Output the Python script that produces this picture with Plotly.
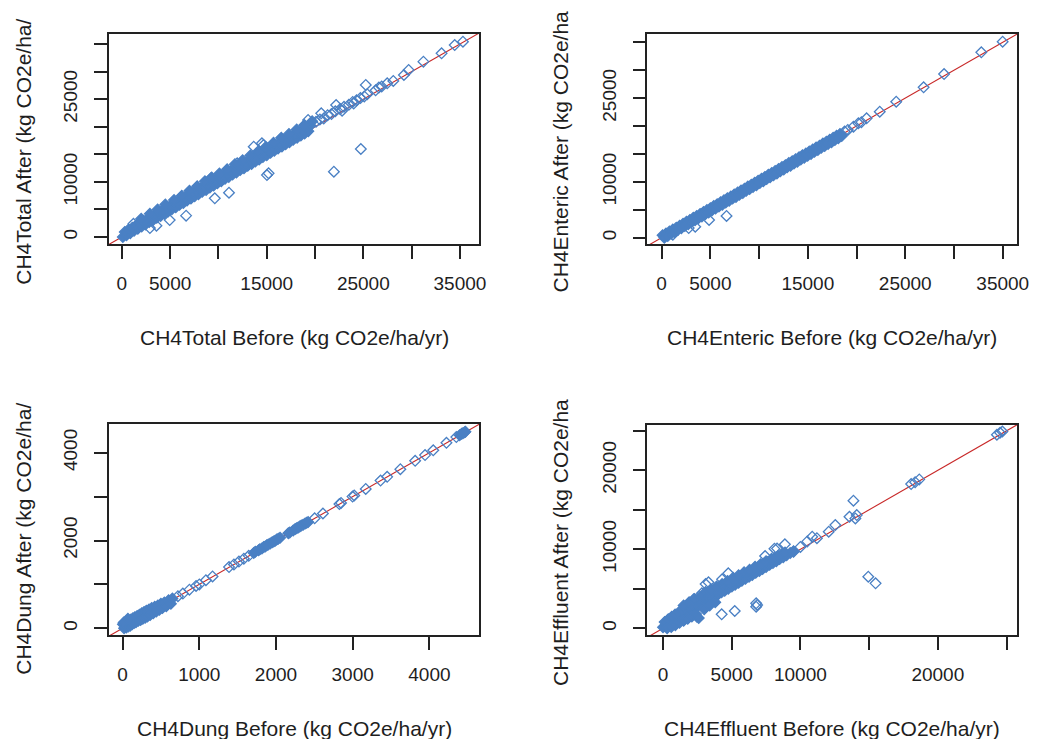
import plotly.graph_objects as go

# ---------------- data ----------------
# Panel 1: CH4Total  (core = densely overplotted band, sparse = individual points)
total_core_before = [100, 480, 870, 1260, 1650, 2050, 2440, 2830, 3220, 3610, 4010, 4400, 4790, 5180, 5580, 5970, 6360, 6750, 7150, 7540,
                     7930, 8320, 8720, 9110, 9500, 9890, 10290, 10680, 11070, 11460, 11860, 12250, 12640, 13030, 13430, 13820, 14210, 14600, 15000, 15390,
                     15780, 16170, 16570, 16960, 17350, 17740, 18140, 18530, 18920, 19310,
                     300, 690, 1080, 1470, 1860, 2250, 2640, 3030, 3430, 3820, 4210, 4600, 5000, 5390, 5780, 6170, 6570, 6960, 7350, 7740,
                     8140, 8530, 8920, 9310, 9710, 10100, 10490, 10880, 11280, 11670, 12060, 12450, 12850, 13240, 13630, 14020, 14420, 14810, 15200, 15590,
                     15990, 16380, 16770, 17160, 17560, 17950, 18340, 18730, 19130, 19520,
                     2000, 2900, 3700, 4500, 5400, 6200, 7000, 7800, 8600, 9300, 10100, 10900, 11700, 12500, 13300, 14100, 14900, 15700, 16500,
                     17300, 18100, 18900, 19700]
total_core_after = [0, 310, 700, 1120, 1480, 1900, 2260, 2700, 3050, 3480, 3820, 4260, 4610, 5050, 5400, 5830, 6180, 6620, 6960, 7410,
                    7740, 8190, 8530, 8980, 9320, 9760, 10100, 10560, 10900, 11340, 11680, 12130, 12480, 12910, 13260, 13700, 14050, 14490, 14830, 15280,
                    15620, 16060, 16410, 16840, 17190, 17640, 17980, 18420, 18760, 19200,
                    900, 1380, 1690, 2150, 2480, 2930, 3270, 3710, 4050, 4500, 4830, 5290, 5620, 6070, 6410, 6850, 7190, 7640, 7980, 8420,
                    8770, 9210, 9550, 10000, 10340, 10780, 11120, 11570, 11910, 12350, 12700, 13140, 13480, 13930, 14270, 14710, 15060, 15500, 15840, 16290,
                    16630, 17070, 17420, 17860, 18200, 18650, 18990, 19430, 19780, 20220,
                    3300, 4200, 5000, 5900, 6700, 7500, 8400, 9200, 10100, 10800, 11500, 12300, 13200, 13900, 14800, 15500, 16300, 17100, 18000,
                    18700, 19500, 20300, 21000]
total_sparse_before = [1200,
                       20100, 20500, 20900, 21300, 21700, 22100, 22600, 22800, 23000, 23500, 23900, 24000, 24300, 24700, 25100, 25400, 25250, 26270, 26610, 26900,
                       27470, 28100, 29200, 29690, 31220, 33100, 34460, 35313, 13650, 14500, 14670, 11940, 9220, 19280, 20640, 22180, 24740, 21950, 15020, 15190,
                       11090, 9620, 6650, 4950, 3580, 2900]
total_sparse_after = [2400,
                      20900, 21300, 21500, 22100, 22300, 22800, 23200, 22900, 23600, 24000, 24500, 24200, 24800, 25200, 25500, 25900, 27570, 26610, 27100, 27300,
                      27870, 28300, 29380, 30290, 31800, 33310, 34820, 35420, 16380, 17000, 16680, 13360, 10640, 21220, 22430, 23940, 15960, 11840, 11240, 11550,
                      8040, 7020, 3870, 3080, 2050, 1630]

# Panel 2: CH4Enteric
enteric_core_before = [100, 450, 800, 1150, 1500, 1850, 2200, 2550, 2900, 3250, 3600, 3950, 4300, 4650, 5000, 5350, 5700, 6050, 6400, 6750,
                       7100, 7450, 7800, 8150, 8500, 8850, 9200, 9550, 9900, 10250, 10600, 10950, 11300, 11650, 12000, 12350, 12700, 13050, 13400, 13750,
                       14100, 14450, 14800, 15150, 15500, 15850, 16200, 16550, 16900, 17250, 17600, 17950, 18300,
                       280, 630, 980, 1330, 1680, 2030, 2380, 2730, 3080, 3430, 3780, 4130, 4480, 4830, 5180, 5530, 5880, 6230, 6580, 6930,
                       7280, 7630, 7980, 8330, 8680, 9030, 9380, 9730, 10080, 10430, 10780, 11130, 11480, 11830, 12180, 12530, 12880, 13230, 13580, 13930,
                       14280, 14630, 14980, 15330, 15680, 16030, 16380, 16730, 17080, 17430, 17780, 18130, 18480]
enteric_core_after = [420, 760, 1090, 1460, 1790, 2160, 2490, 2860, 3190, 3560, 3890, 4260, 4590, 4960, 5290, 5660, 5990, 6360, 6690, 7060,
                      7390, 7760, 8090, 8460, 8790, 9160, 9490, 9860, 10190, 10560, 10890, 11260, 11590, 11960, 12290, 12660, 12990, 13360, 13690, 14060,
                      14390, 14760, 15090, 15460, 15790, 16160, 16490, 16860, 17190, 17560, 17890, 18260, 18590,
                      0, 310, 700, 1010, 1400, 1710, 2100, 2410, 2800, 3110, 3500, 3810, 4200, 4510, 4900, 5210, 5600, 5910, 6300, 6610,
                      7000, 7310, 7700, 8010, 8400, 8710, 9100, 9410, 9800, 10110, 10500, 10810, 11200, 11510, 11900, 12210, 12600, 12910, 13300, 13610,
                      14000, 14310, 14700, 15010, 15400, 15710, 16100, 16410, 16800, 17110, 17500, 17810, 18200]
enteric_sparse_before = [18770, 19100, 19680, 20190, 20500, 21030, 22380, 24070, 26880, 28980, 32800, 34990, 6660, 4870, 3450, 2780, 1150]
enteric_sparse_after = [19000, 19300, 19880, 20480, 20700, 21380, 22570, 24360, 26940, 29320, 33210, 35110, 3890, 3170, 1970, 1730, 530]

# Panel 3: CH4Dung
dung_core_before = [5, 20, 35, 50, 60, 75, 85, 100, 110, 125, 135, 150, 160, 175, 190, 205, 220, 235, 250, 265,
                    280, 295, 310, 325, 345, 360, 380, 400, 420, 440, 460, 480, 500, 520, 545, 570, 600, 630, 650, 40, 15, 70,
                    1710, 1730, 1774, 1790, 1817, 1840, 1860, 1880, 1900, 1925, 1950, 1970, 1989, 2010, 2030, 2053, 2161, 2180, 2225, 2250,
                    2270, 2290, 2310, 2330, 2354, 2380, 2400, 2419, 4394, 4420, 4437, 4459, 4470]
dung_core_after = [90, 0, 110, 20, 150, 40, 180, 60, 200, 90, 230, 120, 250, 140, 280, 170, 310, 190, 340, 220,
                   370, 240, 400, 270, 430, 300, 460, 340, 490, 380, 520, 420, 560, 460, 590, 500, 640, 560, 680, 150, 130, 220,
                   1715, 1745, 1780, 1800, 1820, 1850, 1865, 1890, 1910, 1930, 1960, 1975, 1995, 2020, 2040, 2060, 2165, 2185, 2230, 2260,
                   2280, 2295, 2320, 2340, 2360, 2385, 2405, 2420, 4400, 4430, 4445, 4465, 4480]
dung_sparse_before = [722, 786, 872, 958, 1001, 1087, 1173, 1388, 1452, 1517, 1581, 1645, 2504, 2612, 2827, 2848, 2998, 3020, 3170, 3363,
                      3449, 3621, 3814, 3943, 4050, 4222, 4351]
dung_sparse_after = [730, 790, 880, 965, 1000, 1095, 1180, 1395, 1455, 1520, 1585, 1650, 2505, 2615, 2830, 2855, 3000, 3025, 3175, 3365,
                     3450, 3625, 3815, 3945, 4055, 4225, 4355]

# Panel 4: CH4Effluent
effluent_core_before = [0, 240, 510, 760, 1000, 1260, 1490, 1750, 2010, 2250, 2500, 2760, 3000, 3240, 3510, 3750, 4000, 4260, 4490, 4750,
                        5010, 5250, 5500, 5740, 6000, 6260, 6500, 6750, 7010, 7250, 7500, 7760, 8000, 8250, 8490, 8750, 9000, 9260, 9500,
                        120, 380, 630, 880, 1130, 1380, 1620, 1880, 2130, 2370, 2620, 2880, 3130, 3370, 3620, 3880, 4130, 4370, 4620, 4880,
                        5130, 5370, 5620, 5880, 6130, 6370, 6620, 6880, 7130, 7370, 7620, 7880, 8130, 8370, 8620, 8880,
                        300, 600, 900, 1200, 1500, 1800, 2100, 2400, 2600, 3000, 3400, 3800,
                        1500, 1900, 2300, 2700, 3100, 3500, 3900, 4300, 4700, 5100, 5500, 5900, 6300, 6700, 7100, 7500, 7900]
effluent_core_after = [120, 380, 650, 950, 1180, 1450, 1700, 1960, 2250, 2470, 2740, 3010, 3260, 3480, 3790, 4020, 4260, 4550, 4760, 5000,
                       5290, 5520, 5760, 6010, 6270, 6520, 6760, 7020, 7260, 7520, 7750, 8030, 8260, 8500, 8760, 9000, 9260, 9530, 9760,
                       800, 1150, 1450, 1750, 2000, 2300, 2550, 2800, 3050, 3300, 3550, 3800, 4050, 4300, 4550, 4800, 5050, 5300, 5500, 5750,
                       6000, 6250, 6500, 6750, 6950, 7200, 7450, 7700, 7950, 8200, 8400, 8650, 8900, 9150, 9350, 9600,
                       0, 150, 400, 700, 950, 1200, 1500, 1800, 1300, 2400, 2900, 3300,
                       2900, 3300, 3700, 4000, 4600, 4900, 5300, 5600, 6000, 6400, 6700, 7100, 7400, 7800, 8100, 8500, 8800]
effluent_sparse_before = [3310, 3100, 4750, 4300, 6310, 5600, 2830, 2230, 7430, 8110, 8870, 8300, 9500, 10000, 10500, 10860, 11200, 12060, 12540, 13570,
                          14100, 14000, 13860, 18060, 18650, 18350, 24530, 24300, 24700, 14940, 15470, 6780, 6780, 6850, 4270, 5220, 2470]
effluent_sparse_after = [5820, 5600, 6960, 6200, 7130, 6500, 4430, 3670, 9150, 10070, 10630, 10100, 9700, 10300, 11000, 11590, 11400, 12230, 13070, 14120,
                         14330, 13900, 16150, 18260, 18850, 18500, 24750, 24500, 24900, 6530, 5690, 3160, 2730, 2950, 1770, 2190, 1470]

# Axis ticks and labels (R drops overlapping labels)
big_ticks = [0, 5000, 10000, 15000, 20000, 25000, 30000, 35000]
big_x_labels = ["0", "5000", "", "15000", "", "25000", "", "35000"]
big_y_labels = ["0", "", "10000", "", "", "25000", "", ""]
dung_ticks = [0, 1000, 2000, 3000, 4000]
dung_x_labels = ["0", "1000", "2000", "3000", "4000"]
dung_y_labels = ["0", "", "2000", "", "4000"]
eff_ticks = [0, 5000, 10000, 15000, 20000, 25000]
eff_x_labels = ["0", "5000", "10000", "", "20000", ""]
eff_y_labels = ["0", "", "10000", "", "20000", ""]

x_titles = ["CH4Total Before (kg CO2e/ha/yr)", "CH4Enteric Before (kg CO2e/ha/yr)",
            "CH4Dung Before (kg CO2e/ha/yr)", "CH4Effluent Before (kg CO2e/ha/yr)"]
y_titles = ["CH4Total After (kg CO2e/ha/", "CH4Enteric After (kg CO2e/ha",
            "CH4Dung After (kg CO2e/ha/", "CH4Effluent After (kg CO2e/ha"]

# ---------------- layout geometry ----------------
W, H = 1045, 739
FONT = "Liberation Sans, Arial, sans-serif"
TXT = "#1e1e1e"
PT = "#4A80C4"
LINE_RED = "#C82828"

panels = [
    dict(cx=total_core_before, cy=total_core_after, sx=total_sparse_before, sy=total_sparse_after,
         xdom=(110, 485), ydom=(34, 244),
         xr=[-1361, 37020], yr=[-1270, 36816], xt=big_ticks, xl=big_x_labels, yt=big_ticks, yl=big_y_labels,
         ytx=23, ytb=287),
    dict(cx=enteric_core_before, cy=enteric_core_after, sx=enteric_sparse_before, sy=enteric_sparse_after,
         xdom=(655, 1029), ydom=(34, 244),
         xr=[-1450, 36481], yr=[-1128, 36486], xt=big_ticks, xl=big_x_labels, yt=big_ticks, yl=big_y_labels,
         ytx=566, ytb=295),
    dict(cx=dung_core_before, cy=dung_core_after, sx=dung_sparse_before, sy=dung_sparse_after,
         xdom=(110, 485), ydom=(424, 635),
         xr=[-180, 4652], yr=[-153, 4654], xt=dung_ticks, xl=dung_x_labels, yt=dung_ticks, yl=dung_y_labels,
         ytx=23, ytb=677),
    dict(cx=effluent_core_before, cy=effluent_core_after, sx=effluent_sparse_before, sy=effluent_sparse_after,
         xdom=(655, 1029), ydom=(425, 635),
         xr=[-1130, 25777], yr=[-848, 25733], xt=eff_ticks, xl=eff_x_labels, yt=eff_ticks, yl=eff_y_labels,
         ytx=567, ytb=688),
]

fig = go.Figure()
annotations = []
layout_axes = {}

for i, p in enumerate(panels):
    n = i + 1
    xa = "x" if n == 1 else f"x{n}"
    ya = "y" if n == 1 else f"y{n}"
    xkey = "xaxis" if n == 1 else f"xaxis{n}"
    ykey = "yaxis" if n == 1 else f"yaxis{n}"

    # abline(0, 1) across the plotting region
    lo = min(p["xr"][0], p["yr"][0])
    hi = max(p["xr"][1], p["yr"][1])
    fig.add_trace(go.Scatter(x=[lo, hi], y=[lo, hi], mode="lines", xaxis=xa, yaxis=ya,
                             line=dict(color=LINE_RED, width=1.1), hoverinfo="skip", showlegend=False))
    # overplotted (dense) points
    fig.add_trace(go.Scatter(x=p["cx"], y=p["cy"], mode="markers", xaxis=xa, yaxis=ya,
                             marker=dict(symbol="diamond", size=8.2, color=PT, line=dict(width=1.3, color=PT)),
                             showlegend=False, cliponaxis=True))
    # individual points
    fig.add_trace(go.Scatter(x=p["sx"], y=p["sy"], mode="markers", xaxis=xa, yaxis=ya,
                             marker=dict(symbol="diamond-open", size=8.2, color=PT, line=dict(width=1.3, color=PT)),
                             showlegend=False, cliponaxis=True))

    common = dict(showgrid=False, zeroline=False, showline=True, mirror=True, linecolor="#222222", linewidth=1.5,
                  ticks="outside", ticklen=13, tickwidth=1.5, tickcolor="#222222",
                  tickfont=dict(family=FONT, size=19, color=TXT), tickmode="array", fixedrange=True)
    layout_axes[xkey] = dict(common, domain=[p["xdom"][0] / W, p["xdom"][1] / W], range=p["xr"],
                             tickvals=p["xt"], ticktext=p["xl"], anchor=ya, ticklabelstandoff=8)
    layout_axes[ykey] = dict(common, domain=[1 - p["ydom"][1] / H, 1 - p["ydom"][0] / H], range=p["yr"],
                             tickvals=p["yt"], ticktext=p["yl"], anchor=xa, tickangle=-90, ticklabelstandoff=9)

    # axis titles
    xc = (p["xdom"][0] + p["xdom"][1]) / 2 / W
    xty = p["ydom"][1] + 93.5
    annotations.append(dict(text=x_titles[i], x=xc, y=1 - xty / H, xref="paper", yref="paper",
                            xanchor="center", yanchor="middle", showarrow=False,
                            font=dict(family=FONT, size=21, color=TXT)))
    annotations.append(dict(text=y_titles[i], x=p["ytx"] / W, y=1 - p["ytb"] / H, xref="paper", yref="paper",
                            xanchor="center", yanchor="bottom", textangle=-90, showarrow=False,
                            font=dict(family=FONT, size=21, color=TXT)))

fig.update_layout(width=W, height=H, autosize=False, margin=dict(l=0, r=0, t=0, b=0),
                  paper_bgcolor="white", plot_bgcolor="white", showlegend=False,
                  annotations=annotations, **layout_axes)

fig.write_html("out.html")
